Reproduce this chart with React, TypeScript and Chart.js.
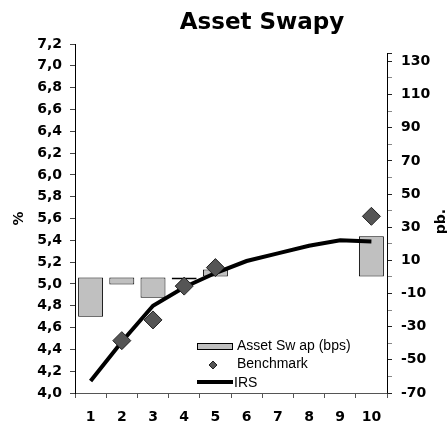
import React, { useEffect, useRef } from "react";
import { Chart, registerables } from "chart.js";

Chart.register(...registerables);

const categories = ["1", "2", "3", "4", "5", "6", "7", "8", "9", "10"];
const assetSwapBps = [-24, -4.5, -12.5, -1.5, 4.5, null, null, null, null, 24.5];
const benchmark = [null, 4.48, 4.67, 4.98, 5.15, null, null, null, null, 5.62];
const irs = [4.11, 4.47, 4.8, 4.97, 5.1, 5.21, 5.28, 5.35, 5.4, 5.39];

const leftTicks = [4.0, 4.2, 4.4, 4.6, 4.8, 5.0, 5.2, 5.4, 5.6, 5.8, 6.0, 6.2, 6.4, 6.6, 6.8, 7.0, 7.2];
const rightTicks = [-70, -60, -50, -40, -30, -20, -10, 0, 10, 20, 30, 40, 50, 60, 70, 80, 90, 100, 110, 120, 130, 135];
const rightLabels = [-70, -50, -30, -10, 10, 30, 50, 70, 90, 110, 130];
const rightAxisTop = 135;

const titleText = "Asset Swapy";
const leftTitle = "%";
const rightTitle = "pb.";
const legendLabels = ["Asset Sw ap (bps)", "Benchmark", "IRS"];

const tickFont = { family: "'DejaVu Sans', sans-serif", weight: "bold" as const, size: 14 };

const decorPlugin = {
  id: "decor",
  afterDraw(chart: any) {
    const ctx = chart.ctx as CanvasRenderingContext2D;
    const area = chart.chartArea;
    const y1 = chart.scales.y1;
    ctx.save();
    // title
    ctx.fillStyle = "#000";
    ctx.font = "bold 23px 'DejaVu Sans', sans-serif";
    ctx.textAlign = "center";
    ctx.textBaseline = "alphabetic";
    ctx.fillText(titleText, 262, 29);

    // axis titles
    ctx.font = "bold 14px 'DejaVu Sans', sans-serif";
    ctx.textBaseline = "middle";
    ctx.save();
    ctx.translate(19, (area.top + area.bottom) / 2);
    ctx.rotate(-Math.PI / 2);
    ctx.fillText(leftTitle, 0, 0);
    ctx.restore();
    ctx.save();
    ctx.translate(441, (area.top + area.bottom) / 2 + 3);
    ctx.rotate(-Math.PI / 2);
    ctx.fillText(rightTitle, 0, 0);
    ctx.restore();

    // right axis line
    const yTop = Math.round(y1.getPixelForValue(rightAxisTop));
    ctx.strokeStyle = "#000";
    ctx.lineWidth = 1;
    ctx.beginPath();
    ctx.moveTo(area.right + 0.5, yTop);
    ctx.lineTo(area.right + 0.5, area.bottom + 0.5);
    ctx.stroke();

    // legend
    const lx = area.left + 122;
    const rows = [346, 364, 382];
    ctx.fillStyle = "#c0c0c0";
    ctx.fillRect(lx, rows[0] - 3, 35, 6);
    ctx.strokeStyle = "#000";
    ctx.strokeRect(lx + 0.5, rows[0] - 3 + 0.5, 35, 6);
    // diamond
    const dx = lx + 16;
    const dy = rows[1] + 1;
    ctx.beginPath();
    ctx.moveTo(dx - 4, dy);
    ctx.lineTo(dx, dy - 4);
    ctx.lineTo(dx + 4, dy);
    ctx.lineTo(dx, dy + 4);
    ctx.closePath();
    ctx.fillStyle = "#555";
    ctx.fill();
    ctx.strokeStyle = "#222";
    ctx.stroke();
    // line
    ctx.strokeStyle = "#000";
    ctx.lineWidth = 4;
    ctx.beginPath();
    ctx.moveTo(lx, rows[2]);
    ctx.lineTo(lx + 36, rows[2]);
    ctx.stroke();

    ctx.fillStyle = "#000";
    ctx.font = "14px 'Liberation Sans', Arial, sans-serif";
    ctx.textAlign = "left";
    ctx.textBaseline = "middle";
    ctx.fillText(legendLabels[0], lx + 40, rows[0]);
    ctx.fillText(legendLabels[1], lx + 40, rows[1]);
    ctx.fillText(legendLabels[2], lx + 37, rows[2] + 1);
    ctx.restore();
  },
};

export default function App() {
  const canvasRef = useRef<HTMLCanvasElement | null>(null);

  useEffect(() => {
    if (!canvasRef.current) return;
    const chart = new Chart(canvasRef.current, {
      type: "bar",
      data: {
        labels: categories,
        datasets: [
          {
            type: "line",
            label: legendLabels[1],
            data: benchmark,
            yAxisID: "y",
            showLine: false,
            pointStyle: "rectRot",
            pointRadius: 9,
            pointHoverRadius: 9,
            pointBackgroundColor: "#555555",
            pointBorderColor: "#222222",
            pointBorderWidth: 1,
            order: 0,
          } as any,
          {
            type: "line",
            label: legendLabels[2],
            data: irs,
            yAxisID: "y",
            borderColor: "#000",
            borderWidth: 4,
            pointRadius: 0,
            tension: 0,
            fill: false,
            order: 1,
          } as any,
          {
            type: "bar",
            label: legendLabels[0],
            data: assetSwapBps,
            yAxisID: "y1",
            backgroundColor: "#c0c0c0",
            borderColor: "#000",
            borderWidth: 1,
            borderSkipped: false,
            barPercentage: 0.8,
            categoryPercentage: 1.0,
            order: 2,
          } as any,
        ],
      },
      options: {
        responsive: false,
        maintainAspectRatio: false,
        animation: false,
        layout: { padding: { top: 44, left: 0, right: 0, bottom: 0 } },
        plugins: {
          legend: { display: false },
          tooltip: { enabled: false },
          title: { display: false },
        },
        scales: {
          x: {
            type: "category",
            offset: true,
            grid: {
              display: true,
              drawOnChartArea: false,
              drawTicks: true,
              tickLength: 5,
              offset: true,
              tickColor: "#555",
            },
            border: { display: true, color: "#555", width: 1 },
            ticks: { font: tickFont, color: "#000", padding: 11, maxRotation: 0, autoSkip: false },
            afterFit: (s: any) => {
              s.height = 35;
            },
          },
          y: {
            type: "linear",
            position: "left",
            min: 4,
            max: 7.2,
            afterBuildTicks: (s: any) => {
              s.ticks = leftTicks.map((v) => ({ value: v }));
            },
            grid: { drawOnChartArea: false, drawTicks: true, tickLength: 5, tickColor: "#444" },
            border: { display: true, color: "#000", width: 1 },
            ticks: {
              font: tickFont,
              color: "#000",
              padding: 8,
              callback: (v: any) => Number(v).toFixed(1).replace(".", ","),
            },
            afterFit: (s: any) => {
              s.width = 75;
            },
          },
          y1: {
            type: "linear",
            position: "right",
            min: -70,
            max: 140.5,
            afterBuildTicks: (s: any) => {
              s.ticks = rightTicks.map((v) => ({ value: v }));
            },
            grid: {
              drawOnChartArea: false,
              drawTicks: true,
              tickLength: 5,
              tickColor: (c: any) => (rightLabels.includes(c.tick?.value) || c.tick?.value === rightAxisTop ? "#222" : "#888"),
            },
            border: { display: false },
            ticks: {
              font: tickFont,
              color: "#000",
              padding: 9,
              autoSkip: false,
              callback: (v: any) => (rightLabels.includes(Number(v)) ? String(v) : ""),
            },
            afterFit: (s: any) => {
              s.width = 60;
            },
          },
        },
      } as any,
      plugins: [decorPlugin],
    });
    return () => chart.destroy();
  }, []);

  return (
    <div style={{ position: "absolute", left: 0, top: 0, width: 447, height: 428, background: "#fff" }}>
      <canvas ref={canvasRef} width={447} height={428} style={{ width: 447, height: 428, display: "block" }} />
    </div>
  );
}
